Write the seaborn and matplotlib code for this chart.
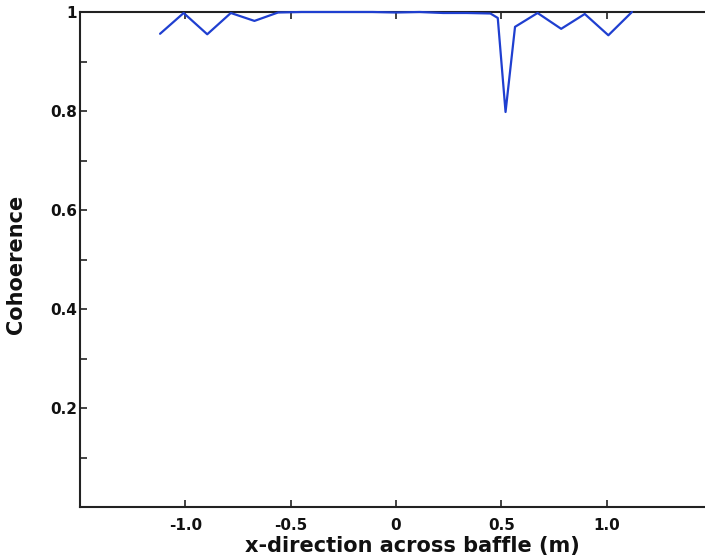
import matplotlib
matplotlib.use("Agg")
import matplotlib.pyplot as plt
import seaborn as sns
import pandas as pd
from matplotlib.ticker import FixedLocator

x_pos = [-1.12, -1.008, -0.896, -0.784, -0.672, -0.56, -0.448, -0.336, -0.224,
         -0.112, 0.0, 0.112, 0.224, 0.336, 0.448, 0.483, 0.52, 0.565, 0.672,
         0.784, 0.896, 1.008, 1.12]
coherence = [0.956, 0.998, 0.955, 0.998, 0.982, 0.999, 1.0, 1.0, 1.0,
             1.0, 0.999, 1.0, 0.998, 0.998, 0.997, 0.988, 0.798, 0.970, 0.998,
             0.966, 0.996, 0.953, 1.0]

x_ticks = [-1.0, -0.5, 0.0, 0.5, 1.0]
x_tick_labels = ["-1.0", "-0.5", "0", "0.5", "1.0"]
y_ticks = [0.2, 0.4, 0.6, 0.8, 1.0]
y_tick_labels = ["0.2", "0.4", "0.6", "0.8", "1"]
y_minor = [0.1, 0.3, 0.5, 0.7, 0.9]

sns.set_theme(style="ticks")
plt.rcParams["font.family"] = ["DejaVu Sans"]
plt.rcParams["font.weight"] = "bold"

fig = plt.figure(figsize=(7.05, 5.59), dpi=100)
ax_w = 632 / 705
ax = fig.add_axes([80 / 705, 52 / 559, ax_w, 495 / 559])

df = pd.DataFrame({"x": x_pos, "y": coherence})
sns.lineplot(data=df, x="x", y="y", ax=ax, color="#1f3fd0", linewidth=1.6,
             sort=False, estimator=None, clip_on=False, zorder=5)

ax.set_xlim(-1.5, 1.5)
ax.set_ylim(0, 1)

ax.xaxis.set_major_locator(FixedLocator(x_ticks))
ax.set_xticklabels(x_tick_labels)
ax.yaxis.set_major_locator(FixedLocator(y_ticks))
ax.set_yticklabels(y_tick_labels)
ax.yaxis.set_minor_locator(FixedLocator(y_minor))

ax.tick_params(axis="both", which="both", direction="in", length=5, width=1.2,
               color="#222222", top=True, right=True, labelsize=11,
               labelcolor="#111111")
ax.tick_params(axis="x", pad=8)
ax.tick_params(axis="y", pad=2)
for lab in ax.get_xticklabels() + ax.get_yticklabels():
    lab.set_fontweight("bold")

for s in ax.spines.values():
    s.set_linewidth(1.5)
    s.set_color("#222222")

ax.set_xlabel("x-direction across baffle (m)", fontsize=15, fontweight="bold",
              color="#111111")
ax.set_ylabel("Cohoerence", fontsize=15, fontweight="bold", color="#111111")
ax.xaxis.set_label_coords((412 - 80) / 632, -0.058)
ax.yaxis.set_label_coords((26 - 80) / 632, 0.491)

fig.savefig("out.png", dpi=100)
